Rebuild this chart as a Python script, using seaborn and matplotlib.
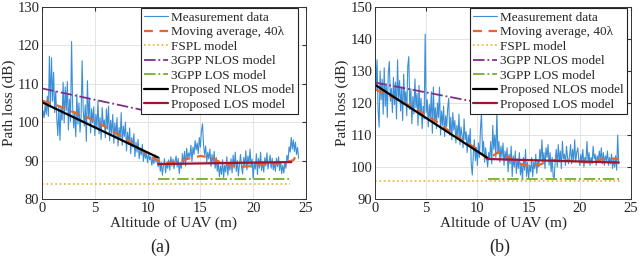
import numpy as np
import matplotlib
matplotlib.use('Agg')
import matplotlib.pyplot as plt
import seaborn as sns

# ---- panel (a) data ----
meas_a = [99.5, 103.0, 101.2, 104.5, 102.0, 106.8, 101.5, 117.2, 104.0, 116.8,
          105.5, 113.0, 102.5, 108.0, 101.0, 96.5, 104.2, 95.3, 103.8, 100.5,
          110.4, 99.8, 109.2, 103.0, 110.6, 98.0, 106.0, 100.2, 121.0, 104.5,
          98.5, 102.8, 96.2, 107.3, 99.5, 105.0, 97.4, 101.5, 116.0, 103.2,
          99.0, 104.5, 95.0, 110.8, 101.0, 106.2, 97.2, 103.5, 99.8, 104.0,
          96.5, 102.0, 98.5, 105.5, 97.0, 101.2, 95.5, 103.8, 99.0, 100.6,
          96.0, 103.5, 98.2, 104.2, 95.2, 100.5, 97.0, 102.0, 94.5, 99.8,
          96.2, 101.2, 93.8, 98.6, 95.5, 102.5, 94.0, 99.0, 96.3, 100.0,
          92.5, 97.4, 94.2, 98.5, 91.8, 96.0, 93.5, 97.0, 91.0, 94.8,
          92.2, 95.5, 90.5, 93.0, 91.5, 94.2, 89.8, 92.6, 90.6, 91.8,
          89.5, 92.0, 90.2, 91.0, 88.8, 90.6, 89.2, 91.5, 89.6, 90.3,
          88.4, 90.8, 87.2, 89.6, 86.2, 88.8, 90.5, 86.8, 89.4, 88.0,
          90.2, 87.5, 91.0, 88.6, 90.4, 87.9, 89.8, 91.2, 88.3, 90.6,
          86.6, 89.5, 88.0, 91.8, 89.0, 92.4, 88.6, 93.2, 90.4, 92.0,
          91.0, 94.0, 89.8, 93.5, 91.6, 95.2, 92.8, 94.6, 91.8, 96.0,
          93.5, 97.8, 99.6, 94.0, 91.5, 93.8, 89.6, 92.2, 90.4, 93.0,
          88.5, 91.6, 89.2, 92.4, 88.0, 90.8, 87.2, 89.5, 85.8, 88.6,
          86.4, 90.2, 85.6, 88.8, 87.0, 91.0, 86.2, 89.4, 87.5, 90.5,
          86.8, 91.4, 88.0, 92.2, 87.2, 90.0, 86.0, 89.0, 91.6, 88.2,
          86.5, 90.8, 88.4, 92.6, 87.6, 91.2, 89.0, 93.0, 88.2, 90.4,
          85.2, 89.6, 87.8, 91.8, 86.4, 90.6, 88.0, 92.2, 87.4, 89.8,
          87.0, 90.8, 88.6, 92.0, 87.8, 89.6, 91.4, 88.0, 90.6, 87.6,
          89.4, 87.2, 90.6, 88.4, 91.0, 87.4, 89.8, 86.6, 88.8, 86.8,
          89.6, 88.0, 91.4, 90.0, 93.6, 92.2, 96.0, 93.0, 95.4, 92.4,
          94.8, 91.6, 93.4, 90.6]
ma_x_a = [0, 1, 2, 3, 4, 5, 6, 7, 8, 9, 10, 11, 12, 13, 14, 15, 16, 17, 18, 19, 20, 21, 22, 23, 23.8, 24.3]
ma_a = [105.6, 104.8, 103.8, 102.6, 101.6, 100.3, 98.8, 97.2, 95.5, 93.6, 91.6, 90.0, 89.4, 89.9, 90.6, 91.2, 90.8,
        89.4, 88.7, 88.4, 88.6, 89.0, 89.2, 89.5, 90.1, 92.3]
fspl_x_a = [0, 23.5]
fspl_a = [83.8, 83.8]
nlos3_x_a = [0, 11]
nlos3_a = [108.8, 102.3]
los3_x_a = [11, 23.5]
los3_a = [85.3, 85.3]
pnlos_x_a = [0, 11]
pnlos_a = [105.2, 90.8]
plos_x_a = [11, 23.2, 23.6]
plos_a = [89.1, 89.6, 89.6]

# ---- panel (b) data ----
meas_b = [140.0, 124.0, 133.5, 118.0, 112.5, 130.0, 121.0, 127.5, 116.5, 131.0,
          119.0, 126.0, 115.5, 129.5, 133.0, 120.5, 124.5, 117.0, 128.0, 119.5,
          126.5, 115.0, 133.5, 121.0, 127.0, 117.5, 125.0, 114.5, 129.0, 120.0,
          123.5, 116.0, 131.5, 134.5, 118.0, 124.5, 113.5, 122.0, 116.5, 127.5,
          118.5, 123.0, 113.0, 125.5, 116.0, 121.5, 112.0, 119.0, 115.0, 141.5,
          117.0, 121.0, 112.5, 119.5, 115.0, 123.5, 110.5, 125.0, 114.0, 118.5,
          112.0, 120.0, 115.5, 125.0, 110.0, 117.5, 113.0, 119.0, 109.5, 116.0,
          112.5, 118.5, 121.5, 110.0, 115.5, 108.5, 117.0, 111.5, 114.5, 107.5,
          113.0, 109.0, 116.5, 107.0, 112.5, 110.0, 106.0, 115.0, 108.5, 111.0,
          104.5, 110.0, 106.5, 112.0, 101.0, 97.5, 104.0, 108.5, 102.0, 106.0,
          100.5, 107.5, 103.0, 112.0, 117.0, 104.5, 108.0, 101.5, 106.0, 103.0,
          100.0, 104.5, 102.5, 108.0, 101.0, 113.0, 105.5, 110.0, 103.0, 117.5,
          104.0, 108.0, 101.5, 106.5, 103.0, 107.5, 100.5, 105.0, 102.0, 106.0,
          98.5, 104.0, 101.0, 106.5, 97.0, 103.5, 100.0, 105.0, 98.0, 102.5,
          99.5, 104.5, 97.5, 101.0, 96.0, 103.0, 99.0, 105.5, 97.0, 101.5,
          96.5, 100.5, 98.5, 103.0, 97.0, 101.5, 99.5, 104.0, 98.0, 102.0,
          100.0, 105.5, 102.0, 108.5, 101.0, 104.5, 99.5, 106.0, 103.0, 107.0,
          100.5, 104.5, 98.5, 103.0, 97.0, 96.5, 102.0, 105.5, 100.0, 107.0,
          101.5, 105.0, 99.5, 108.0, 102.5, 104.0, 100.5, 106.5, 103.0, 101.0,
          103.5, 107.0, 101.0, 105.5, 102.0, 108.5, 101.5, 104.5, 106.0, 102.5,
          100.5, 104.0, 101.5, 105.5, 100.0, 103.0, 102.0, 108.0, 101.5, 104.5,
          100.5, 103.0, 101.0, 106.5, 102.5, 104.0, 100.5, 103.5, 101.5, 105.0,
          102.0, 106.0, 101.0, 104.5, 100.5, 103.5, 102.0, 105.0, 100.5, 103.0,
          101.0, 104.0, 99.5, 102.5, 100.0, 103.5, 99.0, 110.0, 101.0]
ma_x_b = [0, 1, 2, 3, 4, 5, 6, 7, 8, 9, 10, 11, 12, 13, 14, 15, 16, 17, 18, 19, 20, 21, 22, 23, 23.8]
ma_b = [124.3, 122.8, 121.5, 119.8, 118.0, 116.2, 114.2, 111.8, 109.5, 107.5, 105.6, 102.3, 104.6, 103.2, 101.2,
        100.3, 100.6, 102.0, 102.2, 102.0, 101.6, 101.4, 102.3, 102.8, 102.4]
fspl_x_b = [0, 24]
fspl_b = [95.6, 95.6]
nlos3_x_b = [0, 11]
nlos3_b = [126.4, 119.6]
los3_x_b = [11, 23.8]
los3_b = [96.3, 96.3]
pnlos_x_b = [0, 11]
pnlos_b = [125.7, 102.8]
plos_x_b = [11, 23.8]
plos_b = [102.5, 101.4]

sns.set_style('whitegrid')
plt.rcParams['font.family'] = ['Liberation Serif', 'DejaVu Serif']

fig = plt.figure(figsize=(6.4, 2.72), dpi=100)
ax_a = fig.add_axes([42 / 640, 1 - 199 / 272, 264 / 640, 192 / 272])
ax_b = fig.add_axes([375 / 640, 1 - 199 / 272, 256 / 640, 192 / 272])


def draw(ax, meas, ma_x, ma, fx, fy, nx, ny, lx, ly, px, py, qx, qy, ylim, yticks, leg_right):
    mx = np.arange(len(meas)) * 0.1
    sns.lineplot(x=mx, y=meas, ax=ax, color='#3c8fd6', lw=0.8, label='Measurement data')
    sns.lineplot(x=ma_x, y=ma, ax=ax, color='#E8642A', lw=1.6, linestyle=(0, (4, 3)),
                 label='Moving average, 40λ')
    sns.lineplot(x=fx, y=fy, ax=ax, color='#EDB120', lw=1.2, linestyle=':', label='FSPL model')
    sns.lineplot(x=nx, y=ny, ax=ax, color='#7E2F8E', lw=1.3, linestyle='-.', label='3GPP NLOS model')
    sns.lineplot(x=lx, y=ly, ax=ax, color='#77AC30', lw=1.3, linestyle='-.', label='3GPP LOS model')
    sns.lineplot(x=px, y=py, ax=ax, color='black', lw=1.6, label='Proposed NLOS model')
    sns.lineplot(x=qx, y=qy, ax=ax, color='#A2142F', lw=1.6, label='Proposed LOS model')
    ax.set_xlim(0, 25)
    ax.set_ylim(*ylim)
    ax.set_xticks([0, 5, 10, 15, 20, 25])
    ax.set_yticks(yticks)
    ax.grid(True, color='#e3e3e3', lw=0.7)
    for s in ax.spines.values():
        s.set_color('#333333')
        s.set_linewidth(0.7)
    ax.tick_params(direction='in', top=True, right=True, length=3, labelsize=10.5,
                   color='#333333', pad=2)
    ax.set_xlabel('Altitude of UAV (m)', fontsize=11, labelpad=1)
    ax.set_ylabel('Path loss (dB)', fontsize=11, labelpad=1)
    leg = ax.legend(loc='upper right', bbox_to_anchor=(leg_right, 1.0), fontsize=9.5,
                    frameon=True, fancybox=False, edgecolor='#222222', framealpha=1,
                    borderpad=0.25, labelspacing=0.17, handlelength=1.8, handletextpad=0.2,
                    borderaxespad=0.1)
    leg.get_frame().set_linewidth(0.8)


draw(ax_a, meas_a, ma_x_a, ma_a, fspl_x_a, fspl_a, nlos3_x_a, nlos3_a, los3_x_a, los3_a,
     pnlos_x_a, pnlos_a, plos_x_a, plos_a, (80, 130), [80, 90, 100, 110, 120, 130], 1 - 7 / 264)
draw(ax_b, meas_b, ma_x_b, ma_b, fspl_x_b, fspl_b, nlos3_x_b, nlos3_b, los3_x_b, los3_b,
     pnlos_x_b, pnlos_b, plos_x_b, plos_b, (90, 150), [90, 100, 110, 120, 130, 140, 150], 1 - 3 / 256)

fig.text(160 / 640, 1 - 247 / 272, '(a)', ha='center', va='center', fontsize=13)
fig.text(500 / 640, 1 - 247 / 272, '(b)', ha='center', va='center', fontsize=13)

fig.savefig('out.png', dpi=100)
